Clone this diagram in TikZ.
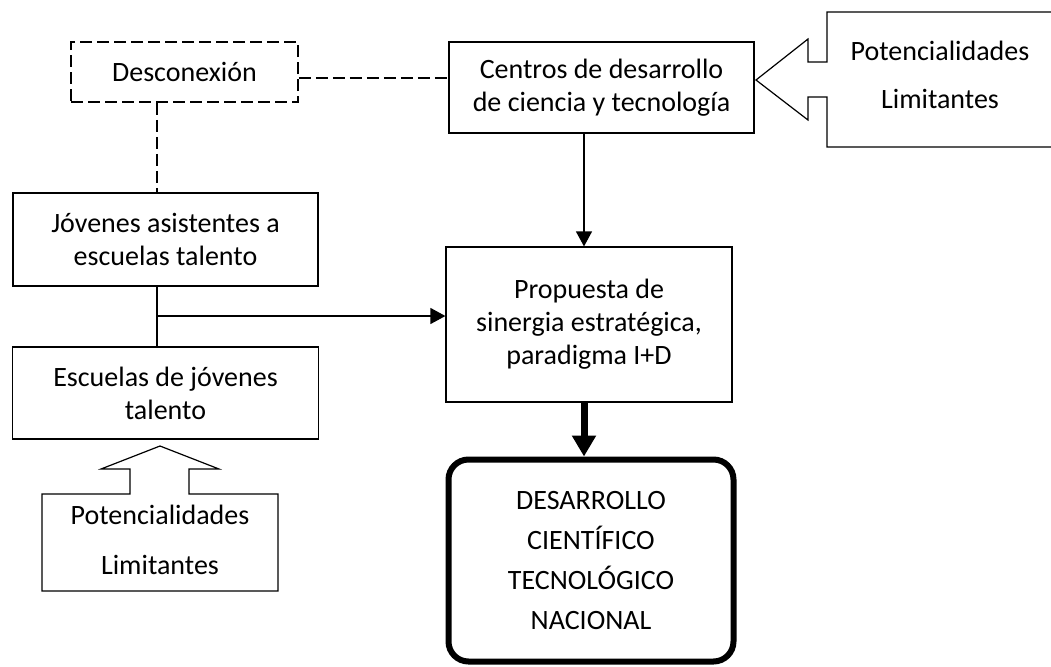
\documentclass[tikz,border=0pt]{standalone}
\usepackage{fontspec}
\setmainfont{Carlito}
\usetikzlibrary{arrows.meta}

\begin{document}
\begin{tikzpicture}[x=0.5pt,y=-0.5pt]
          \tikzstyle{main} = [draw, align=center, inner sep=0pt, line width=0.6pt, font=\fontsize{14}{16.5}\selectfont]
          \tikzstyle{heavy} = [main, line width=1.1pt]
          \tikzstyle{cut} = [main, line width=0.8pt, dash pattern=on 6pt off 2.5pt]
          \tikzstyle{goal} = [main, line width=3pt, rounded corners=10pt, font=\fontsize{14}{20}\selectfont]
          \tikzstyle{lbl} = [anchor=base, inner sep=0pt, font=\fontsize{14}{16.5}\selectfont]
          \tikzstyle{link} = [line width=0.6pt, -{Triangle[length=7.5pt,width=8pt]}]
        \useasboundingbox (0,0) rectangle (1051,666);
        \node[cut, minimum width=113.5pt, minimum height=30pt] (1) at (184.5,72) {Desconexión};
        \node[heavy, minimum width=152.5pt, minimum height=45.5pt] (2) at (601.5,87.5) {Centros de desarrollo\\de ciencia y tecnología};
        \node[heavy, minimum width=152.5pt, minimum height=46.5pt] (3) at (165.5,239.5) {Jóvenes asistentes a\\escuelas talento};
        \node[main, minimum width=153pt, minimum height=46pt] (4) at (165.5,393) {Escuelas de jóvenes\\talento};
        \node[main, minimum width=143pt, minimum height=77.5pt] (5) at (589,324.5) {Propuesta de\\sinergia estratégica,\\paradigma I+D};
        \node[goal, minimum width=142.5pt, minimum height=101pt] (6) at (591,560.5) {DESARROLLO\\CIENTÍFICO\\TECNOLÓGICO\\NACIONAL};
        % block arrows
        \draw[line width=0.6pt] (1060,12) -- (827,12) -- (827,62) -- (808,62) -- (808,39) -- (756,80)
          -- (808,120) -- (808,97) -- (827,97) -- (827,147) -- (1060,147);
        \node[lbl] (7) at (940,60) {Potencialidades};
        \node[lbl] (8) at (940,108) {Limitantes};
        \draw[line width=0.6pt] (42,494) -- (42,591) -- (278,591) -- (278,494) -- (189,494) -- (189,469)
          -- (219,469) -- (160,446) -- (101,469) -- (130,469) -- (130,494) -- cycle;
        \node[lbl] (9) at (160,524) {Potencialidades};
        \node[lbl] (10) at (160,574) {Limitantes};
        \coordinate (j) at (157,316);
        \coordinate (h) at (0,78);
        \coordinate (k) at (584,0);
        \begin{scope}
          \draw[line width=0.8pt, dash pattern=on 6pt off 2.5pt] (1.east |- h) -- (2.west |- h);
          \draw[line width=0.8pt, dash pattern=on 6pt off 2.5pt] (j |- 1.south) -- (j |- 3.north);
          \draw[line width=0.6pt] (j |- 3.south) -- (j |- 4.north);
          \draw[link] (j) -- (j -| 5.west);
          \draw[link] (k |- 2.south) -- (k |- 5.north);
          \draw[line width=3.5pt, -{Triangle[length=10.5pt,width=11.5pt]}] (k |- 5.south) -- (k |- 6.north);
        \end{scope}
      \end{tikzpicture}
\end{document}
